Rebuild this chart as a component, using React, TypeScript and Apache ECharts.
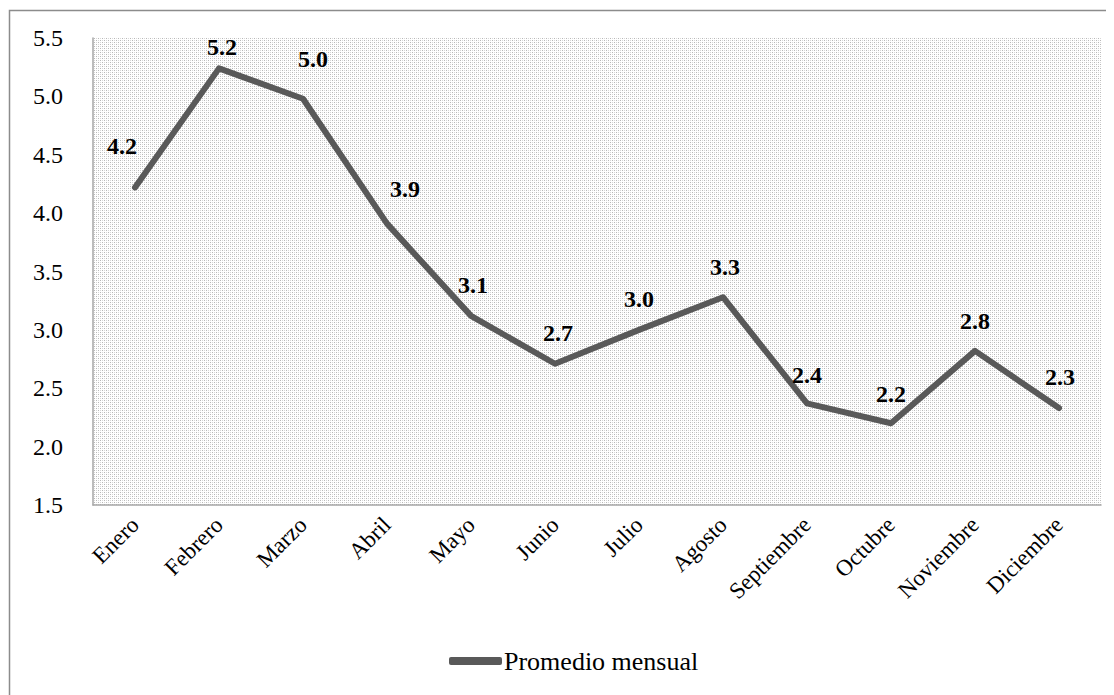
import React, { useEffect, useRef } from "react";
import * as echarts from "echarts";

const months = ["Enero", "Febrero", "Marzo", "Abril", "Mayo", "Junio", "Julio", "Agosto", "Septiembre", "Octubre", "Noviembre", "Diciembre"];
const promedio = [4.22, 5.24, 4.98, 3.91, 3.12, 2.71, 3.0, 3.28, 2.37, 2.2, 2.82, 2.33];
const labelOffsets: number[][] = [[-13, -11], [3, 9], [10, -9], [18, -4], [2, 0], [3, 0], [0, 0], [2, 0], [0, 2], [0, 1], [0, 1], [1, -1]];
const seriesName = "Promedio mensual";
const yMin = 1.5;
const yMax = 5.5;
const yStep = 0.5;

function makePattern(): string {
  const c = document.createElement("canvas");
  c.width = 4;
  c.height = 4;
  const ctx = c.getContext("2d")!;
  ctx.fillStyle = "#ffffff";
  ctx.fillRect(0, 0, 4, 4);
  ctx.fillStyle = "#b8b8b8";
  ctx.fillRect(0, 0, 1, 1);
  ctx.fillRect(2, 2, 1, 1);
  ctx.fillStyle = "#d8d8d8";
  ctx.fillRect(2, 0, 1, 1);
  ctx.fillRect(0, 2, 1, 1);
  return c.toDataURL();
}

export default function App() {
  const ref = useRef<HTMLDivElement>(null);
  useEffect(() => {
    if (!ref.current) return;
    const chart = echarts.init(ref.current, null, { renderer: "svg" });
    const font = "Liberation Serif";
    chart.setOption({
      animation: false,
      backgroundColor: "#ffffff",
      textStyle: { fontFamily: font },
      graphic: [
        {
          type: "rect",
          shape: { x: 1.5, y: 2.5, width: 1200, height: 800 },
          style: { fill: "none", stroke: "#8c8c8c", lineWidth: 1.5 },
          silent: true,
        },
      ],
      grid: {
        left: 85,
        top: 30,
        right: 13,
        bottom: 190,
        show: true,
        borderWidth: 0,
        backgroundColor: { image: makePattern(), repeat: "repeat" },
      },
      legend: {
        bottom: 16,
        left: 436,
        data: [seriesName],
        itemWidth: 53,
        itemHeight: 8,
        itemGap: 4,
        textStyle: { fontFamily: font, fontSize: 26, color: "#000", padding: [0, 0, 0, -3] },
        icon: "roundRect",
      },
      xAxis: {
        type: "category",
        data: months,
        boundaryGap: true,
        axisLine: { lineStyle: { color: "#a6a6a6", width: 1.5 } },
        axisTick: { show: false },
        axisLabel: {
          rotate: 45,
          interval: 0,
          margin: 16,
          fontFamily: font,
          fontSize: 23,
          color: "#000",
        },
      },
      yAxis: {
        type: "value",
        min: yMin,
        max: yMax,
        interval: yStep,
        axisLine: { show: true, lineStyle: { color: "#a6a6a6", width: 1.5 } },
        axisTick: { show: false },
        splitLine: { show: false },
        axisLabel: {
          margin: 30,
          fontFamily: font,
          fontSize: 24,
          color: "#000",
          formatter: (v: number) => v.toFixed(1),
        },
      },
      series: [
        {
          name: seriesName,
          type: "line",
          data: promedio.map((v, i) => ({
            value: v,
            label: { offset: labelOffsets[i] },
          })),
          symbol: "circle",
          symbolSize: 1,
          showSymbol: true,
          lineStyle: { color: "#595959", width: 6, cap: "round", join: "round" },
          itemStyle: { color: "#595959" },
          label: {
            show: true,
            position: "top",
            distance: 18,
            fontFamily: font,
            fontSize: 24,
            fontWeight: "bold",
            color: "#000",
            formatter: (p: any) => Number(p.value).toFixed(1),
          },
        },
      ],
    });
    return () => chart.dispose();
  }, []);
  return <div ref={ref} style={{ width: 1106, height: 687 }} />;
}
